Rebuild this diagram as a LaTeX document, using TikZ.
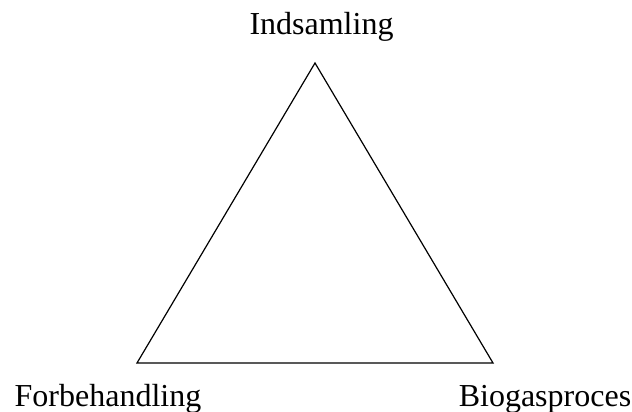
\documentclass[tikz,border=0pt]{standalone}
\usepackage{fontspec}
\setmainfont{Liberation Serif}
\usetikzlibrary{calc}

\begin{document}
\begin{tikzpicture}[x=1pt, y=1pt, line width=1.2pt,
    label/.style={anchor=base, inner sep=0pt, font=\fontsize{32}{38}\selectfont}]
        \useasboundingbox (0,0) rectangle (632,412);
        \coordinate (I) at (315, 349);
        \coordinate (F) at (137, 49);
        \coordinate (B) at (493, 49);
        \draw (I) -- (F) -- (B) -- cycle;
        
        \node[label] (indsamling) at (321.5, 377) {Indsamling};
        \node[label] (forbehandling) at (108, 5) {Forbehandling};
        \node[label] (biogas) at (545, 5) {Biogasproces};
    \end{tikzpicture}
\end{document}
